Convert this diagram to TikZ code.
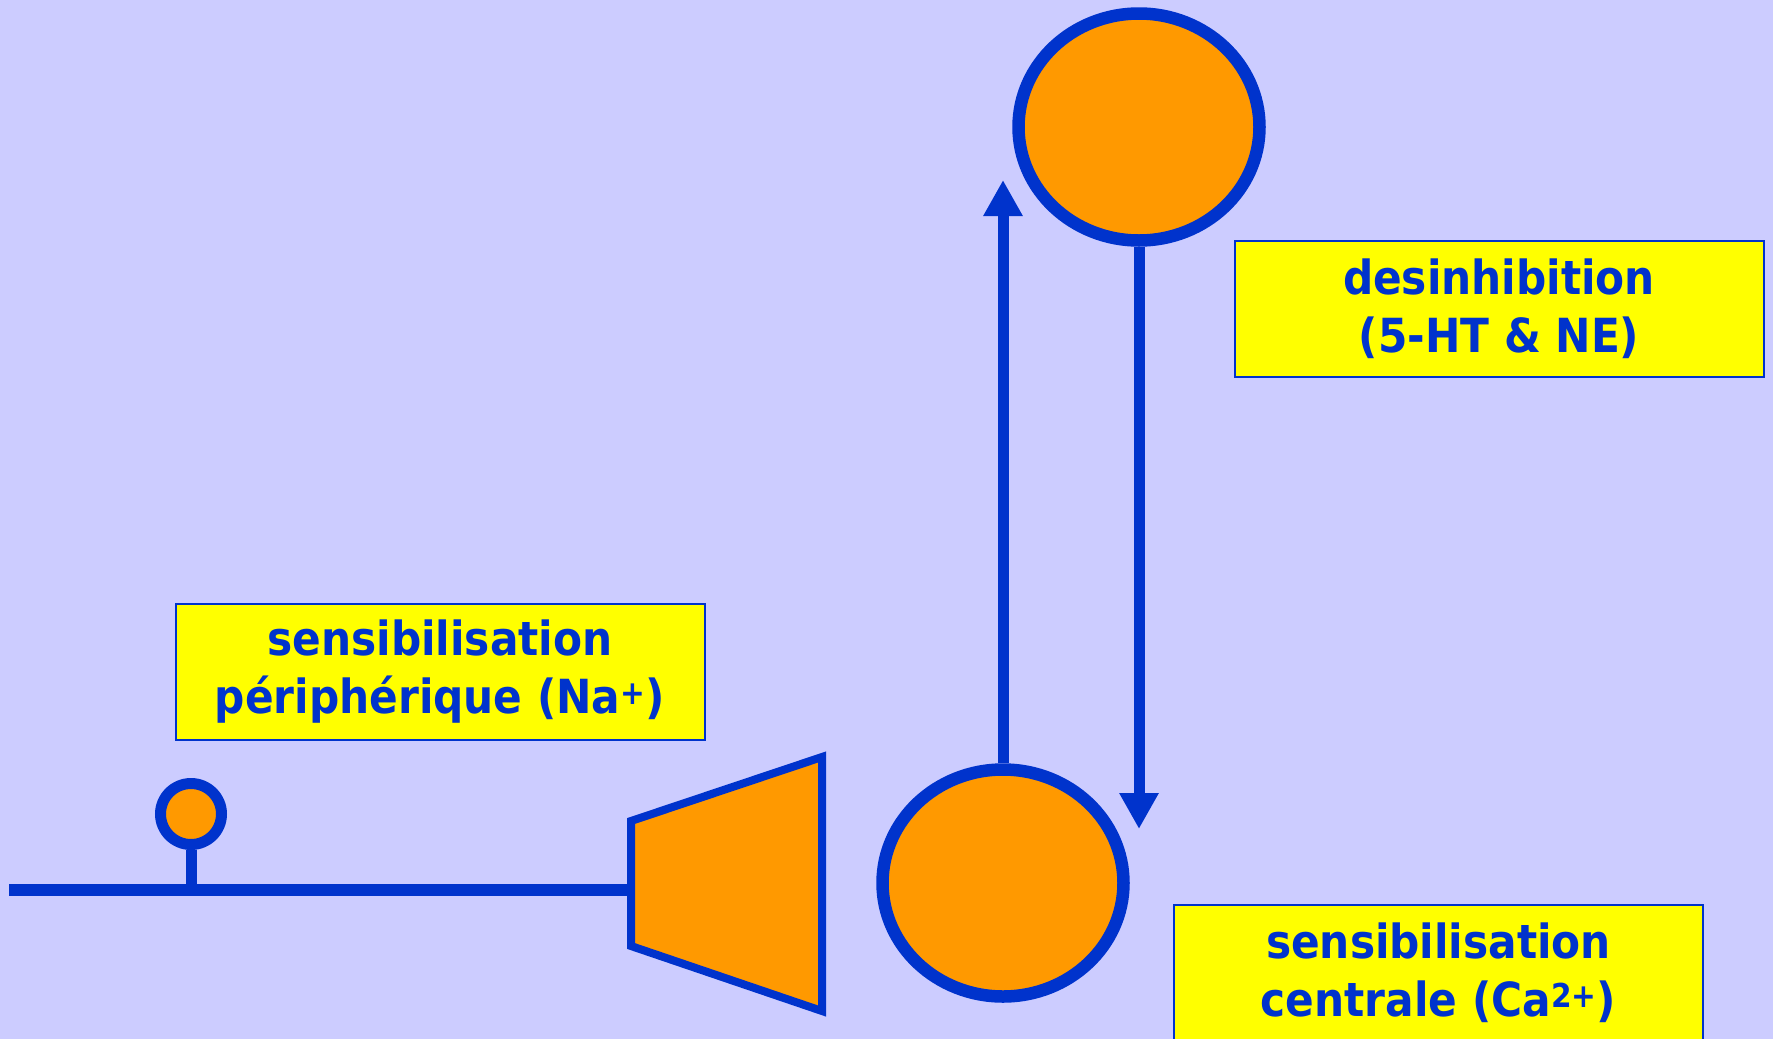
\documentclass[tikz,border=0pt]{standalone}
\usepackage{fontspec}
\setmainfont{DejaVu Sans Condensed}
\usetikzlibrary{arrows.meta,shapes.geometric}
\definecolor{fond}{HTML}{CCCCFF}
\definecolor{bleu}{HTML}{0033CC}
\definecolor{orangeN}{HTML}{FF9900}
\definecolor{jaune}{HTML}{FFFF00}
\tikzset{
    neurone/.style={ellipse, draw=bleu, fill=orangeN, line width=12.5pt, inner sep=0pt,
        minimum width=241pt, minimum height=227pt},
    etiquette/.style={rectangle, draw=bleu, fill=jaune, line width=2pt, inner sep=0pt,
        minimum width=529pt, minimum height=136pt, text=bleu, align=center,
        font=\bfseries\fontsize{47}{58}\selectfont},
    fleche/.style={draw=bleu, line width=11pt, -{Triangle[length=36pt,width=37pt]}}
}
\begin{document}
\begin{tikzpicture}[x=1pt, y=-1pt]
        \useasboundingbox (0,0) rectangle (1773,1039);
        \fill[fond] (0,0) rectangle (1773,1039);

        \node[neurone] (haut) at (1139,127) {};
        \node[neurone] (bas) at (1003,883) {};
        \coordinate (pointeHaut) at (1003,180);
        \coordinate (pointeBas) at (1139,829);
        \draw[fleche] (bas.north) -- (pointeHaut);
        \draw[fleche] (haut.south) -- (pointeBas);

        \coordinate (debut) at (9,890);
        \coordinate (jonction) at (191,890);
        \coordinate (terminal) at (631,890);
        \draw[bleu, line width=12pt] (debut) -- (terminal);
        \node[circle, draw=bleu, fill=orangeN, line width=11pt, inner sep=0pt,
            minimum size=61pt] (recepteur) at (191,814) {};
        \draw[bleu, line width=11pt] (recepteur.south) -- (jonction);
        \draw[bleu, fill=orangeN, line width=8pt]
            (631,821) -- (822,757) -- (822,1011) -- (631,946) -- cycle;

        \node[etiquette] (peripherique) at (440,671.5)
            {sensibilisation\\périphérique (Na\textsuperscript{+})};
        \node[etiquette] (desinhibition) at (1499,308.5)
            {desinhibition\\(5-HT \& NE)};
        \node[etiquette] (centrale) at (1438.5,972.5)
            {sensibilisation\\centrale (Ca\textsuperscript{2+})};
    \end{tikzpicture}
\end{document}
